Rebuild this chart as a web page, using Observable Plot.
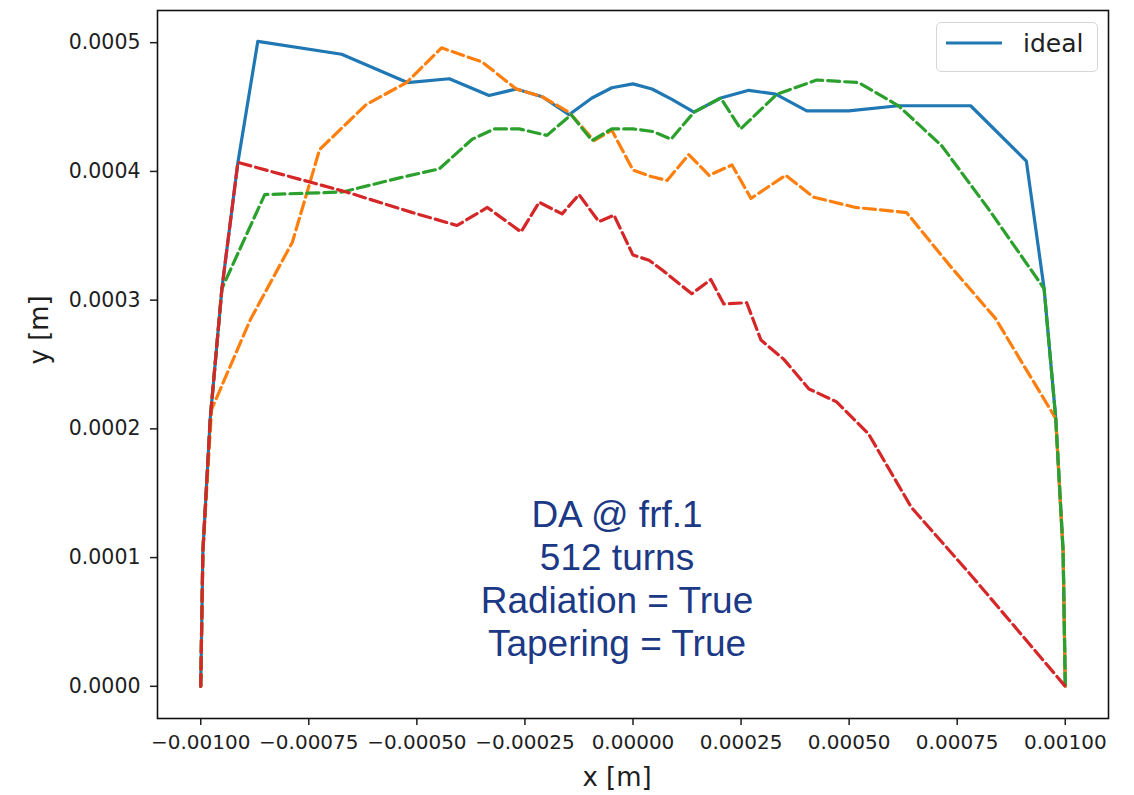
<!DOCTYPE html>
<html>
<head>
<meta charset="utf-8">
<script src="https://cdn.jsdelivr.net/npm/d3@7"></script>
<script src="https://cdn.jsdelivr.net/npm/@observablehq/plot@0.6"></script>
<style>
  html, body { margin: 0; padding: 0; background: #fff; }
  #wrap { position: relative; width: 1134px; height: 795px; }
  #legend {
    position: absolute; left: 936px; top: 22px; width: 160px; height: 48px;
    border: 1px solid #d6d6d6; border-radius: 5px; background: rgba(255,255,255,0.85);
    font-family: "DejaVu Sans", sans-serif; font-size: 25px; color: #222;
  }
  #legend svg { position: absolute; left: 0; top: 0; }
</style>
</head>
<body>
<div id="wrap"></div>
<script>
// ---- data (metres) ----
const idealX = [-0.001000, -0.000995, -0.000978, -0.000951, -0.000914, -0.000868, -0.000674, -0.000522, -0.000425, -0.000333, -0.000270, -0.000210, -0.000148, -0.000095, -0.000049, 0.000000, 0.000044, 0.000090, 0.000141, 0.000203, 0.000268, 0.000330, 0.000402, 0.000499, 0.000614, 0.000781, 0.000910, 0.000951, 0.000978, 0.000995, 0.001000];
const idealY = [0.000000, 0.000105, 0.000208, 0.000309, 0.000407, 0.000501, 0.000491, 0.000469, 0.000472, 0.000459, 0.000464, 0.000458, 0.000444, 0.000457, 0.000465, 0.000468, 0.000464, 0.000456, 0.000446, 0.000457, 0.000463, 0.000460, 0.000447, 0.000447, 0.000451, 0.000451, 0.000408, 0.000309, 0.000208, 0.000105, 0.000000];

const orangeX = [-0.001000, -0.000995, -0.000975, -0.000885, -0.000788, -0.000725, -0.000617, -0.000524, -0.000443, -0.000349, -0.000270, -0.000210, -0.000148, -0.000090, -0.000049, 0.000000, 0.000042, 0.000079, 0.000129, 0.000176, 0.000229, 0.000273, 0.000353, 0.000418, 0.000515, 0.000633, 0.000730, 0.000838, 0.000978, 0.000995, 0.001000];
const orangeY = [0.000000, 0.000105, 0.000215, 0.000285, 0.000345, 0.000417, 0.000452, 0.000469, 0.000496, 0.000485, 0.000464, 0.000458, 0.000446, 0.000424, 0.000432, 0.000401, 0.000396, 0.000393, 0.000413, 0.000397, 0.000405, 0.000379, 0.000397, 0.000380, 0.000372, 0.000368, 0.000328, 0.000286, 0.000208, 0.000105, 0.000000];

const greenX = [-0.001000, -0.000995, -0.000978, -0.000951, -0.000852, -0.000672, -0.000540, -0.000448, -0.000372, -0.000321, -0.000263, -0.000199, -0.000143, -0.000095, -0.000049, 0.000000, 0.000046, 0.000088, 0.000141, 0.000203, 0.000249, 0.000333, 0.000425, 0.000522, 0.000614, 0.000714, 0.000822, 0.000951, 0.000978, 0.000995, 0.001000];
const greenY = [0.000000, 0.000105, 0.000208, 0.000309, 0.000382, 0.000384, 0.000395, 0.000402, 0.000425, 0.000433, 0.000433, 0.000428, 0.000444, 0.000424, 0.000433, 0.000433, 0.000431, 0.000425, 0.000446, 0.000457, 0.000433, 0.000460, 0.000471, 0.000469, 0.000451, 0.000420, 0.000371, 0.000309, 0.000208, 0.000105, 0.000000];

const redX = [-0.001000, -0.000995, -0.000978, -0.000951, -0.000914, -0.000663, -0.000510, -0.000407, -0.000337, -0.000259, -0.000217, -0.000164, -0.000125, -0.000079, -0.000044, 0.000000, 0.000037, 0.000069, 0.000102, 0.000136, 0.000180, 0.000210, 0.000263, 0.000296, 0.000349, 0.000407, 0.000471, 0.000545, 0.000644, 0.000788, 0.001000];
const redY = [0.000000, 0.000105, 0.000208, 0.000309, 0.000407, 0.000384, 0.000368, 0.000358, 0.000372, 0.000353, 0.000376, 0.000367, 0.000382, 0.000361, 0.000366, 0.000335, 0.000331, 0.000323, 0.000314, 0.000305, 0.000316, 0.000297, 0.000298, 0.000269, 0.000254, 0.000231, 0.000221, 0.000196, 0.000139, 0.000084, 0.000000];

const xTicks = [-0.001, -0.00075, -0.0005, -0.00025, 0, 0.00025, 0.0005, 0.00075, 0.001];
const yTicks = [0, 0.0001, 0.0002, 0.0003, 0.0004, 0.0005];
const annotationLines = ["DA @ frf.1", "512 turns", "Radiation = True", "Tapering = True"];
const annotationAt = {x: 0, y: 0.0000845};
const legendLabel = "ideal";

// ---- build tables ----
const toRows = (xs, ys) => xs.map((x, i) => ({x, y: ys[i]}));
const ideal = toRows(idealX, idealY);
const orange = toRows(orangeX, orangeY);
const green = toRows(greenX, greenY);
const red = toRows(redX, redY);

const fmtX = d => (d < 0 ? "\u2212" : "") + Math.abs(d).toFixed(5);
const fmtY = d => d.toFixed(4);
const dash = "12,5";
const lw = 3.2;

const chart = Plot.plot({
  width: 1134,
  height: 795,
  marginLeft: 157,
  marginRight: 26,
  marginTop: 10,
  marginBottom: 77,
  style: {fontFamily: "DejaVu Sans, sans-serif", fontSize: "20px", color: "#1e1e1e", background: "#fff"},
  x: {domain: [-0.0011, 0.0011]},
  y: {domain: [-0.000025, 0.000525]},
  marks: [
    Plot.axisX({ticks: xTicks, tickFormat: fmtX, tickSize: 7, tickPadding: 9, strokeWidth: 1.5, label: null, fontSize: 20}),
    Plot.axisY({ticks: yTicks, tickFormat: fmtY, tickSize: 7, tickPadding: 10, strokeWidth: 1.5, label: null, fontSize: 20.5}),
    Plot.line(ideal, {x: "x", y: "y", stroke: "#1f77b4", strokeWidth: lw}),
    Plot.line(orange, {x: "x", y: "y", stroke: "#ff7f0e", strokeWidth: lw, strokeDasharray: dash}),
    Plot.line(green, {x: "x", y: "y", stroke: "#2ca02c", strokeWidth: lw, strokeDasharray: dash}),
    Plot.line(red, {x: "x", y: "y", stroke: "#d62728", strokeWidth: lw, strokeDasharray: dash}),
    Plot.text([annotationLines.join("\n")], {
      x: () => annotationAt.x, y: () => annotationAt.y, text: d => d,
      dx: -16, fontFamily: "Liberation Sans, Arial, sans-serif", fontSize: 37,
      lineHeight: 1.16, lineAnchor: "middle", textAnchor: "middle", fill: "#1c3986"
    }),
    Plot.text(["x [m]"], {frameAnchor: "bottom", dx: -16, dy: 59, lineAnchor: "middle", fontSize: 26, fill: "#1e1e1e"}),
    Plot.text(["y [m]"], {frameAnchor: "left", dx: -118, rotate: -90, lineAnchor: "middle", fontSize: 26, fill: "#1e1e1e"}),
    Plot.frame({stroke: "#111", strokeWidth: 1.6})
  ]
});

const wrap = document.getElementById("wrap");
wrap.appendChild(chart);

// legend (matplotlib style box, upper right)
const legend = document.createElement("div");
legend.id = "legend";
legend.innerHTML =
  `<svg width="160" height="48"><line x1="9" x2="65" y1="20" y2="20" stroke="#1f77b4" stroke-width="3.2"/>` +
  `<text x="86" y="29" font-family="DejaVu Sans, sans-serif" font-size="25" fill="#222">${legendLabel}</text></svg>`;
wrap.appendChild(legend);
</script>
</body>
</html>
